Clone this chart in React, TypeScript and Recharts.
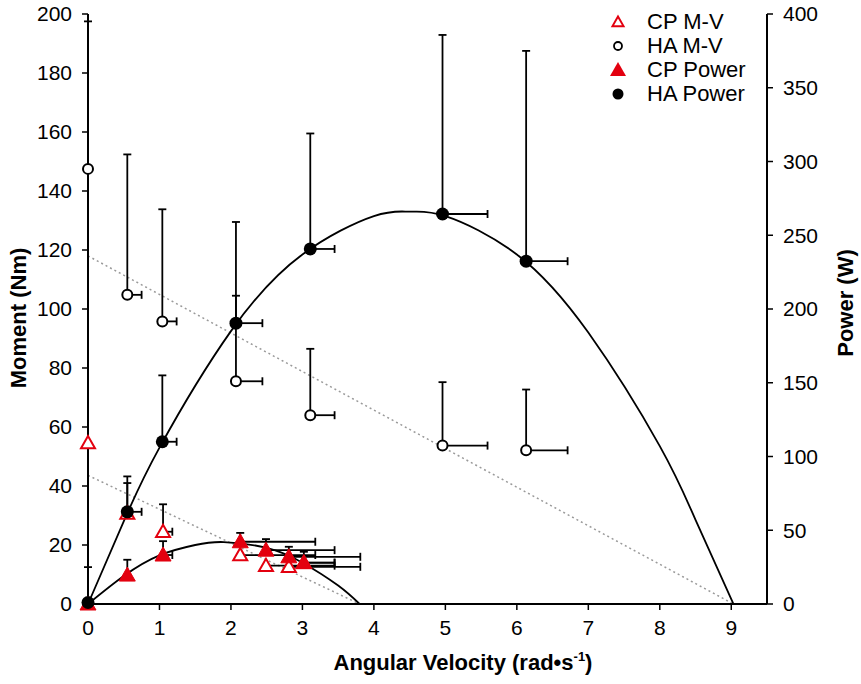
import React from 'react'
import { ComposedChart, Scatter, Line, XAxis, YAxis, ErrorBar } from 'recharts'

const FONT = '"Liberation Sans", Arial, Helvetica, sans-serif'
const RED = '#e3000f'

const velTicks = [0, 1, 2, 3, 4, 5, 6, 7, 8, 9]
const momentTicks = [0, 20, 40, 60, 80, 100, 120, 140, 160, 180, 200]
const powerTicks = [0, 50, 100, 150, 200, 250, 300, 350, 400]

// HA group
const haVel = [0, 0.55, 1.04, 2.07, 3.11, 4.96, 6.13]
const haVelErr = [null, 0.2, 0.2, 0.37, 0.34, 0.63, 0.58]
const haMoment = [147.5, 104.8, 95.8, 75.5, 64, 53.7, 52.1]
const haMomentErr = [50, 47.6, 38, 29, 22.5, 21.5, 20.6]
const haPower = [1, 62.5, 110, 190.4, 240.7, 264.4, 232.4]
const haPowerErr = [24, 24, 45, 68.6, 78.3, 121.4, 142.6]

// CP group
const cpVel = [0, 0.55, 1.05, 2.13, 2.49, 2.81, 3.02]
const cpVelErr = [null, null, 0.13, 1.05, 0.96, 1.0, 0.43]
const cpMoment = [54.6, 30.7, 24.5, 16.6, 13, 12.6, 14]
const cpMomentErr = [null, 10.3, 9.3, null, null, null, null]
const cpPower = [0, 19.6, 33.2, 42.2, 36.5, 32, 28]
const cpPowerErr = [null, 10.4, 9.4, 6, 7.5, 6.8, 7.4]

// fitted power curves
const haCurveVel = [0, 0.5, 1, 2, 3, 4, 4.5, 5, 6, 7, 8, 8.5, 9.03]
const haCurvePower = [0, 56, 106, 185, 237, 263, 266, 263, 237, 184, 107, 57, 0]
const cpCurveVel = [0, 0.5, 1, 1.5, 1.9, 2.5, 3, 3.5, 3.8]
const cpCurvePower = [0, 19, 33, 40, 42, 38, 28, 12.5, 0]

// linear moment-velocity fits
const haFitVel = [0, 9.03]
const haFitMoment = [118, 0]
const cpFitVel = [0, 3.8]
const cpFitMoment = [43.6, 0]

const err = (e: number | null) => (e == null ? null : [0, e])

const haData = haVel.map((v, i) => ({
  v, m: haMoment[i], p: haPower[i],
  em: err(haMomentErr[i]), ep: err(haPowerErr[i]), ev: err(haVelErr[i]),
}))
const cpData = cpVel.map((v, i) => ({
  v, m: cpMoment[i], p: cpPower[i],
  em: err(cpMomentErr[i]), ep: err(cpPowerErr[i]), ev: err(cpVelErr[i]),
}))
const haCurve = haCurveVel.map((v, i) => ({ v, y: haCurvePower[i] }))
const cpCurve = cpCurveVel.map((v, i) => ({ v, y: cpCurvePower[i] }))
const haFit = haFitVel.map((v, i) => ({ v, y: haFitMoment[i] }))
const cpFit = cpFitVel.map((v, i) => ({ v, y: cpFitMoment[i] }))

const tri = (cx: number, cy: number, s: number) =>
  `${cx},${cy - s} ${cx - s},${cy + s * 0.75} ${cx + s},${cy + s * 0.75}`

const NoShape = () => null
const OpenTriangle = ({ cx, cy }: any) =>
  cx == null ? null : <polygon points={tri(cx, cy, 7)} fill="#fff" stroke={RED} strokeWidth={2} />
const FilledTriangle = ({ cx, cy }: any) =>
  cx == null ? null : <polygon points={tri(cx, cy, 8)} fill={RED} stroke={RED} strokeWidth={1} />
const OpenCircle = ({ cx, cy }: any) =>
  cx == null ? null : <circle cx={cx} cy={cy} r={5} fill="#fff" stroke="#000" strokeWidth={2} />
const FilledCircle = ({ cx, cy }: any) =>
  cx == null ? null : <circle cx={cx} cy={cy} r={6.5} fill="#000" />

const legendItems = [
  { name: 'CP M-V', icon: <polygon points={tri(10, 12, 5.5)} fill="#fff" stroke={RED} strokeWidth={2} /> },
  { name: 'HA M-V', icon: <circle cx={10} cy={12} r={4} fill="none" stroke="#000" strokeWidth={1.8} /> },
  { name: 'CP Power', icon: <polygon points={tri(10, 12, 8)} fill={RED} /> },
  { name: 'HA Power', icon: <circle cx={10} cy={12} r={5.5} fill="#000" /> },
]

const tick = { fill: '#000', fontSize: 21, fontFamily: FONT }
const axisLine = { stroke: '#000', strokeWidth: 2 }
const tickLine = { stroke: '#000', strokeWidth: 1.5 }
const titleStyle = { fontSize: 22, fontWeight: 700, fontFamily: FONT, fill: '#000' }
const bar = { width: 4, stroke: '#000', strokeWidth: 1.8 }

export default function App() {
  return (
    <div style={{ position: 'absolute', left: 0, top: 0, width: 861, height: 684, background: '#fff' }}>
      <ComposedChart width={861} height={684} margin={{ top: 14, right: 34, bottom: 20, left: 28 }}>
        <XAxis
          type="number"
          dataKey="v"
          domain={[0, 9.5]}
          ticks={velTicks}
          axisLine={axisLine}
          tickLine={tickLine}
          tickSize={6}
          tickMargin={10}
          tick={tick}
          height={60}
          label={() => (
            <text x={463} y={670} textAnchor="middle" style={titleStyle}>
              Angular Velocity (rad•s<tspan dy={-9} fontSize={13}>-1</tspan><tspan dy={9}>)</tspan>
            </text>
          )}
        />
        <YAxis
          yAxisId="m"
          type="number"
          domain={[0, 200]}
          ticks={momentTicks}
          axisLine={axisLine}
          tickLine={tickLine}
          tickSize={6}
          tickMargin={10}
          tick={tick}
          width={60}
          label={() => (
            <text x={18} y={318} textAnchor="middle" dominantBaseline="central" transform="rotate(-90 18 318)" style={titleStyle}>
              Moment (Nm)
            </text>
          )}
        />
        <YAxis
          yAxisId="p"
          orientation="right"
          type="number"
          domain={[0, 400]}
          ticks={powerTicks}
          axisLine={axisLine}
          tickLine={tickLine}
          tickSize={6}
          tickMargin={10}
          tick={tick}
          width={60}
          label={() => (
            <text x={845} y={303} textAnchor="middle" dominantBaseline="central" transform="rotate(-90 845 303)" style={titleStyle}>
              Power (W)
            </text>
          )}
        />

        <Line data={haFit} dataKey="y" yAxisId="m" type="linear" stroke="#9a9a9a" strokeWidth={1.5} strokeDasharray="2 3" dot={false} isAnimationActive={false} />
        <Line data={cpFit} dataKey="y" yAxisId="m" type="linear" stroke="#9a9a9a" strokeWidth={1.5} strokeDasharray="2 3" dot={false} isAnimationActive={false} />
        <Line data={haCurve} dataKey="y" yAxisId="p" type="natural" stroke="#000" strokeWidth={1.8} dot={false} isAnimationActive={false} />
        <Line data={cpCurve} dataKey="y" yAxisId="p" type="natural" stroke="#000" strokeWidth={1.8} dot={false} isAnimationActive={false} />

        {/* error bars first, markers drawn on top */}
        <Scatter data={haData} dataKey="m" yAxisId="m" shape={NoShape} legendType="none" isAnimationActive={false}>
          <ErrorBar dataKey="em" direction="y" {...bar} />
          <ErrorBar dataKey="ev" direction="x" {...bar} />
        </Scatter>
        <Scatter data={haData} dataKey="p" yAxisId="p" shape={NoShape} legendType="none" isAnimationActive={false}>
          <ErrorBar dataKey="ep" direction="y" {...bar} />
          <ErrorBar dataKey="ev" direction="x" {...bar} />
        </Scatter>
        <Scatter data={cpData} dataKey="m" yAxisId="m" shape={NoShape} legendType="none" isAnimationActive={false}>
          <ErrorBar dataKey="em" direction="y" {...bar} />
          <ErrorBar dataKey="ev" direction="x" {...bar} />
        </Scatter>
        <Scatter data={cpData} dataKey="p" yAxisId="p" shape={NoShape} legendType="none" isAnimationActive={false}>
          <ErrorBar dataKey="ep" direction="y" {...bar} />
          <ErrorBar dataKey="ev" direction="x" {...bar} />
        </Scatter>

        <Scatter data={cpData} dataKey="m" yAxisId="m" shape={OpenTriangle} isAnimationActive={false} />
        <Scatter data={cpData} dataKey="p" yAxisId="p" shape={FilledTriangle} isAnimationActive={false} />
        <Scatter data={haData} dataKey="m" yAxisId="m" shape={OpenCircle} isAnimationActive={false} />
        <Scatter data={haData} dataKey="p" yAxisId="p" shape={FilledCircle} isAnimationActive={false} />
      </ComposedChart>

      <div style={{ position: 'absolute', left: 608, top: 10, fontFamily: FONT, fontSize: 22, color: '#000' }}>
        {legendItems.map((it) => (
          <div key={it.name} style={{ display: 'flex', alignItems: 'center', height: 24 }}>
            <svg width={20} height={24} style={{ marginRight: 19 }}>{it.icon}</svg>
            <span style={{ lineHeight: '24px' }}>{it.name}</span>
          </div>
        ))}
      </div>
    </div>
  )
}
